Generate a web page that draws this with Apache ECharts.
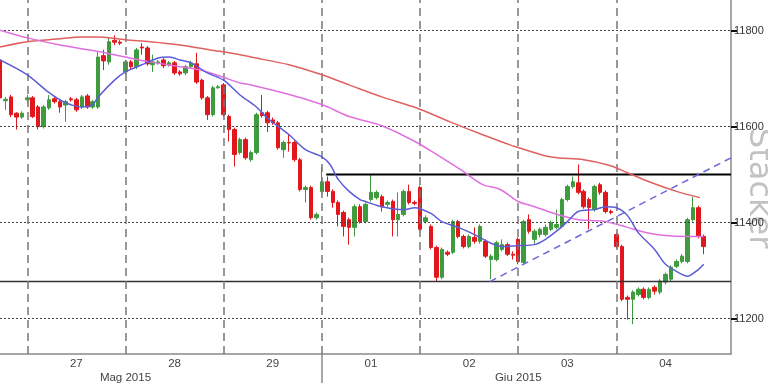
<!DOCTYPE html>
<html>
<head>
<meta charset="utf-8">
<script src="https://cdn.jsdelivr.net/npm/echarts@6/dist/echarts.min.js"></script>
<style>html,body{margin:0;padding:0;background:#fff;}#c{width:768px;height:384px;}</style>
</head>
<body>
<div id="c"></div>
<script>
// ---- data ----
const dayLabels = ['27', '28', '29', '01', '02', '03', '04'];
const dayCenters = [9, 27, 45, 63, 81, 99, 117];
const dayStarts = [0, 18, 36, 54, 72, 90, 108];
const monthLabels = ['Mag 2015', 'Giu 2015'];
const monthCenters = [18, 90];
const monthBreak = [54];
const yTicks = [11200, 11400, 11600, 11800];
const firstCandleX = -5;
// [open, close, low, high]
const ohlc = [
[11739,11660,11655,11745],[11654,11657,11635,11662],[11662,11625,11620,11666],[11628,11620,11594,11630],[11620,11628,11616,11632],
[11656,11660,11650,11666],[11660,11621,11618,11664],[11641,11600,11594,11645],[11600,11641,11596,11645],[11639,11656,11635,11666],
[11658,11652,11648,11662],[11652,11641,11629,11656],[11645,11652,11610,11656],[11658,11656,11652,11662],[11656,11635,11631,11660],
[11641,11662,11637,11666],[11664,11641,11637,11668],[11641,11652,11637,11656],[11641,11745,11637,11756],[11748,11737,11718,11760],
[11735,11777,11729,11786],[11780,11776,11770,11790],[11776,11774,11770,11780],[11714,11735,11708,11739],[11735,11725,11720,11739],
[11725,11760,11720,11764],[11766,11764,11750,11774],[11764,11731,11727,11768],[11729,11735,11714,11750],[11733,11735,11729,11739],
[11739,11727,11722,11743],[11729,11733,11725,11737],[11733,11712,11708,11737],[11714,11710,11706,11718],[11712,11725,11708,11729],
[11725,11733,11722,11737],[11731,11693,11689,11754],[11697,11660,11656,11700],[11660,11625,11614,11664],[11625,11681,11621,11685],
[11681,11683,11679,11687],[11687,11625,11621,11691],[11621,11594,11569,11625],[11594,11542,11517,11598],[11546,11573,11542,11577],
[11573,11535,11531,11577],[11531,11546,11527,11550],[11546,11625,11542,11629],[11629,11623,11619,11666],[11629,11608,11589,11633],
[11614,11608,11604,11619],[11608,11556,11552,11612],[11552,11567,11535,11571],[11567,11566,11548,11583],[11567,11531,11527,11571],
[11531,11469,11465,11535],[11469,11473,11442,11477],[11473,11410,11406,11477],[11410,11417,11406,11421],[11465,11485,11461,11515],
[11485,11465,11454,11496],[11465,11442,11431,11469],[11442,11417,11392,11446],[11421,11392,11371,11425],[11406,11390,11354,11410],
[11390,11433,11371,11438],[11433,11402,11398,11438],[11402,11438,11398,11442],[11448,11463,11444,11500],[11452,11463,11448,11467],
[11454,11433,11423,11458],[11438,11442,11433,11446],[11444,11406,11371,11448],[11406,11417,11371,11463],[11417,11465,11413,11469],
[11465,11442,11438,11479],[11442,11440,11436,11446],[11473,11386,11382,11477],[11402,11410,11398,11415],[11392,11348,11344,11396],
[11348,11286,11278,11352],[11286,11344,11282,11348],[11338,11334,11330,11342],[11338,11402,11334,11406],[11402,11371,11367,11406],
[11371,11350,11346,11375],[11350,11371,11346,11375],[11369,11361,11356,11390],[11361,11392,11356,11396],[11361,11330,11326,11365],
[11323,11330,11282,11334],[11323,11358,11319,11362],[11344,11354,11340,11365],[11354,11334,11330,11358],[11334,11332,11323,11340],
[11365,11319,11313,11369],[11317,11402,11313,11406],[11406,11382,11377,11417],[11365,11382,11356,11386],[11375,11386,11369,11390],
[11375,11390,11371,11396],[11386,11400,11382,11404],[11390,11396,11386,11427],[11392,11448,11388,11452],[11448,11475,11444,11479],
[11475,11485,11471,11496],[11483,11463,11459,11521],[11465,11433,11429,11469],[11448,11431,11386,11452],[11427,11475,11423,11479],
[11479,11463,11458,11483],[11463,11423,11419,11467],[11423,11421,11417,11427],[11375,11350,11346,11379],[11350,11240,11236,11354],
[11244,11240,11198,11248],[11240,11255,11188,11259],[11250,11261,11246,11265],[11261,11244,11240,11265],[11244,11261,11240,11265],
[11265,11257,11250,11269],[11255,11278,11250,11282],[11276,11292,11271,11296],[11282,11307,11278,11311],[11309,11319,11305,11323],
[11319,11330,11315,11334],[11319,11406,11315,11410],[11406,11431,11402,11454],[11431,11371,11367,11435],[11371,11350,11334,11375]
];
const maFast = [[-5,11739],[0,11708],[4,11671],[7,11650],[10,11641],[12,11646],[13,11662],[16,11697],[18,11714],[21,11729],[24,11743],[26,11745],[28,11739],[30,11733],[33,11712],[36,11697],[39,11666],[42,11641],[44,11618],[48,11583],[51,11552],[54,11537],[55.5,11521],[57,11490],[59,11465],[61,11448],[62,11444],[65,11433],[69,11427],[71,11431],[74,11419],[76,11402],[79,11390],[82,11375],[85,11357],[87,11350],[90,11352],[93,11354],[95,11365],[97,11382],[99,11402],[101,11423],[104,11427],[106,11433],[108,11431],[110,11415],[112,11379],[115,11344],[117,11313],[120,11292],[121,11288],[123,11302],[124,11313]];
const maMid = [[-5,11801],[0,11785],[6,11770],[13.3,11756],[18,11745],[22.5,11735],[28,11725],[31.7,11718],[35.7,11704],[39,11691],[41,11687],[47,11670],[54,11646],[59,11621],[65,11602],[71.4,11567],[75,11542],[80,11506],[83.5,11479],[86.7,11469],[90,11444],[93,11433],[96,11421],[99,11411],[101,11406],[104,11404],[106,11402],[110,11390],[113.6,11379],[117,11373],[121,11371],[124,11371]];
const maSlow = [[-5,11766],[0,11777],[6,11783],[9.7,11787],[13.3,11787],[18,11781],[22.5,11777],[28,11770],[33.5,11760],[39,11750],[41,11745],[48,11729],[54,11708],[59,11687],[65,11662],[71.4,11639],[77.5,11610],[83.5,11583],[88.5,11562],[95.8,11537],[102,11531],[106.8,11519],[110,11504],[114,11485],[119,11465],[123.3,11452]];
const resistance = [[54.8,11500],[129,11500]];
const support = [[-5,11277],[129,11277]];
const trendLine = [[84.8,11277],[129,11535]];
const watermark = 'Stacker';

// ---- chart ----
const chart = echarts.init(document.getElementById('c'), null, {renderer: 'canvas'});
const font = 'Liberation Sans';
const candles = ohlc.map((d, i) => [firstCandleX + i, d[0], d[1], d[2], d[3]]);
const option = {
  animation: false,
  backgroundColor: '#ffffff',
  grid: {left: 0, right: 37, top: 0, bottom: 29, containLabel: false},
  xAxis: [{
    type: 'value', min: -5, max: 129, position: 'bottom',
    axisLine: {show: true, onZero: false, lineStyle: {color: '#8a8a8a', width: 1.5}},
    axisTick: {show: true, customValues: monthBreak, length: 29, lineStyle: {color: '#8a8a8a', width: 1.5}},
    axisLabel: {show: true, customValues: dayCenters, margin: 4, color: '#444', fontFamily: font, fontSize: 11.5,
      formatter: v => dayLabels[dayCenters.indexOf(v)]},
    splitLine: {show: false}
  }, {
    type: 'value', min: -5, max: 129, position: 'bottom', offset: 14,
    axisLine: {show: false, onZero: false}, axisTick: {show: false},
    axisLabel: {show: true, customValues: monthCenters, margin: 4, color: '#444', fontFamily: font, fontSize: 11.5,
      formatter: v => monthLabels[monthCenters.indexOf(v)]},
    splitLine: {show: false}
  }],
  yAxis: {
    type: 'value', min: 11126, max: 11864, position: 'right',
    axisLine: {show: true, onZero: false, lineStyle: {color: '#8a8a8a', width: 1.5}},
    axisTick: {show: true, customValues: yTicks, length: 6, lineStyle: {color: '#111', width: 2}},
    axisLabel: {show: true, customValues: yTicks, margin: 3, color: '#333', fontFamily: font, fontSize: 11,
      formatter: v => String(v)},
    splitLine: {show: false}
  },
  graphic: [{
    type: 'text', x: 742, y: 128, rotation: -Math.PI / 2, silent: true,
    style: {text: watermark, fill: '#c2c2c2', font: '32px "DejaVu Sans"', textAlign: 'left', textVerticalAlign: 'bottom'}
  }],
  series: [
    {
      type: 'line', data: [], silent: true, z: 1,
      markLine: {
        silent: true, symbol: 'none', label: {show: false}, animation: false,
        data: [
          ...yTicks.map(v => ({yAxis: v, lineStyle: {type: [2, 2], color: '#444', width: 1}})),
          ...dayStarts.map(v => ({xAxis: v, lineStyle: {type: [8, 5], color: '#777', width: 1.5}}))
        ]
      }
    },
    {
      type: 'candlestick', data: candles, encode: {x: 0, y: [1, 2, 3, 4]}, barWidth: 4, z: 3,
      itemStyle: {color: '#3e9b3e', color0: '#e2171c', borderColor: '#3e9b3e', borderColor0: '#e2171c', borderWidth: 1}
    },
    {type: 'line', data: support, showSymbol: false, symbol: 'none', z: 4, lineStyle: {color: '#333', width: 1.5}},
    {type: 'line', data: resistance, showSymbol: false, symbol: 'none', z: 4, lineStyle: {color: '#000', width: 2}},
    {type: 'line', data: trendLine, showSymbol: false, symbol: 'none', z: 4, lineStyle: {color: '#6a6ad8', width: 1.5, type: [7, 5]}},
    {type: 'line', data: maSlow, showSymbol: false, symbol: 'none', smooth: 0.3, z: 5, lineStyle: {color: '#e06060', width: 1.5}},
    {type: 'line', data: maMid, showSymbol: false, symbol: 'none', smooth: 0.3, z: 5, lineStyle: {color: '#e070e0', width: 1.5}},
    {type: 'line', data: maFast, showSymbol: false, symbol: 'none', smooth: 0.3, z: 5, lineStyle: {color: '#5c5cd8', width: 1.5}}
  ]
};
chart.setOption(option);
</script>
</body>
</html>
